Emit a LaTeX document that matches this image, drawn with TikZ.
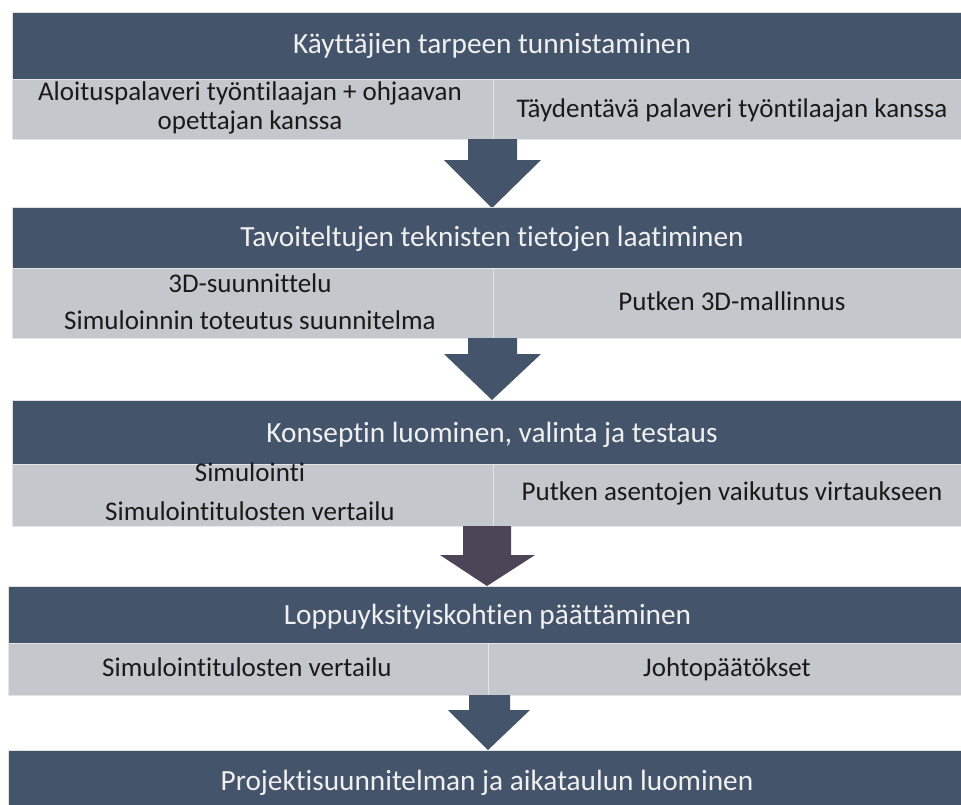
\documentclass[tikz,border=0pt]{standalone}
\usepackage{fontspec}
\setmainfont{Carlito}[Ligatures=NoCommon]
\definecolor{hdrblue}{HTML}{44546A}
\definecolor{cellgray}{HTML}{C4C7CB}
\definecolor{arrowpurple}{HTML}{4A4657}
\definecolor{celltext}{HTML}{1A1A1A}
\tikzset{
  hdr/.style={fill=hdrblue, draw=black!12, line width=0.6pt, anchor=north west, inner sep=0pt},
  cell/.style={fill=cellgray, draw=black!10, line width=0.5pt, anchor=north west, inner sep=0pt},
  hdrtext/.style={text=white!94!black, font=\fontsize{29.3}{34}\selectfont, inner sep=0pt,
     text height=18.9pt, text depth=0pt},
  celltxt/.style={text=celltext, font=\fontsize{27}{28.5}\selectfont, inner sep=0pt,
     text height=17.4pt, text depth=0pt, align=center},
  blockarrow/.style={fill=hdrblue, draw=none},
}
\begin{document}
\begin{tikzpicture}[x=1pt,y=-1pt]
\useasboundingbox (0,0) rectangle (961,804);
\fill[white] (0,0) rectangle (961,804);
% block 1
\node[hdr, minimum width=952pt, minimum height=67pt] (h1) at (12,12) {};
\node[hdrtext] (t1) at (492,44.5) {Käyttäjien tarpeen tunnistaminen};
\node[cell, minimum width=481pt, minimum height=60pt] (c1l) at (12,79) {};
\node[cell, minimum width=470pt, minimum height=60pt] (c1r) at (493,79) {};
\node[celltxt] (l1a) at (250,92) {Aloituspalaveri työntilaajan + ohjaavan};
\node[celltxt] (l1b) at (250,121) {opettajan kanssa};
\node[celltxt] (r1) at (732,108.5) {Täydentävä palaveri työntilaajan kanssa};
% arrow 1
\fill[blockarrow] (468,139) -- (517,139) -- (517,160) -- (541,160) -- (492,208) -- (444,160) -- (468,160) -- cycle;
% block 2
\node[hdr, minimum width=952pt, minimum height=61pt] (h2) at (12,207) {};
\node[hdrtext] (t2) at (492,237) {Tavoiteltujen teknisten tietojen laatiminen};
\node[cell, minimum width=481pt, minimum height=70pt] (c2l) at (12,268) {};
\node[cell, minimum width=470pt, minimum height=70pt] (c2r) at (493,268) {};
\node[celltxt] (l2a) at (250,283.5) {3D-suunnittelu};
\node[celltxt] (l2b) at (250,321) {Simuloinnin toteutus suunnitelma};
\node[celltxt] (r2) at (732,302) {Putken 3D-mallinnus};
% arrow 2
\fill[blockarrow] (468,338) -- (517,338) -- (517,354) -- (541,354) -- (492,400) -- (444,354) -- (468,354) -- cycle;
% block 3
\node[hdr, minimum width=952pt, minimum height=64pt] (h3) at (12,400) {};
\node[hdrtext] (t3) at (492,433) {Konseptin luominen, valinta ja testaus};
\node[cell, minimum width=481pt, minimum height=62pt] (c3l) at (12,464) {};
\node[cell, minimum width=470pt, minimum height=62pt] (c3r) at (493,464) {};
\node[celltxt] (l3a) at (250,473) {Simulointi};
\node[celltxt] (l3b) at (250,512) {Simulointitulosten vertailu};
\node[celltxt] (r3) at (732,492) {Putken asentojen vaikutus virtaukseen};
% arrow 3
\fill[arrowpurple] (463,526) -- (511,526) -- (511,555) -- (535,555) -- (487,586) -- (440,555) -- (463,555) -- cycle;
% block 4
\node[hdr, minimum width=956pt, minimum height=57pt] (h4) at (8,586) {};
\node[hdrtext] (t4) at (487.5,615) {Loppuyksityiskohtien päättäminen};
\node[cell, minimum width=480pt, minimum height=52pt] (c4l) at (8,643) {};
\node[cell, minimum width=476pt, minimum height=52pt] (c4r) at (488,643) {};
\node[celltxt] (l4) at (247,668) {Simulointitulosten vertailu};
\node[celltxt] (r4) at (727,668) {Johtopäätökset};
% arrow 4
\fill[blockarrow] (469,695) -- (510,695) -- (510,710) -- (530,710) -- (488,750) -- (448,710) -- (469,710) -- cycle;
% block 5
\node[hdr, minimum width=956pt, minimum height=60pt] (h5) at (8,750) {};
\node[hdrtext] (t5) at (487,781) {Projektisuunnitelman ja aikataulun luominen};
\end{tikzpicture}
\end{document}
